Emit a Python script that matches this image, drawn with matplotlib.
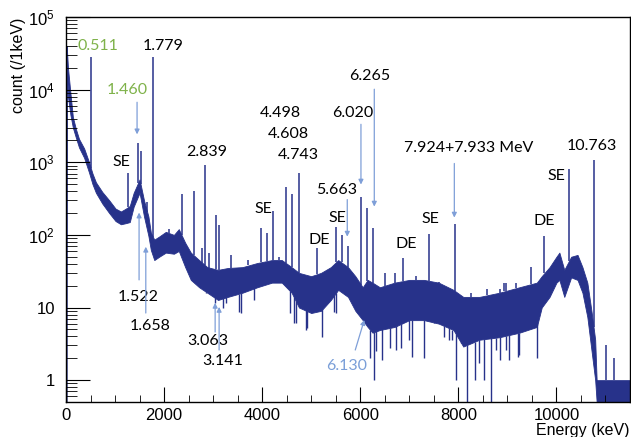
import numpy as np
import matplotlib
matplotlib.use("Agg")
import matplotlib.pyplot as plt
from matplotlib.ticker import FixedLocator, MultipleLocator, NullFormatter

plt.rcParams['font.family'] = ['Liberation Sans', 'DejaVu Sans']
plt.rcParams['mathtext.default'] = 'regular'

# continuum band (keV, lower / upper envelope in counts per keV)
band_e = [8, 15, 40, 90, 140, 200, 265, 370, 470, 540, 610, 740, 880, 1010, 1120,
          1220, 1300, 1380, 1500, 1590, 1680, 1730, 1800, 1900, 2035, 2200, 2300,
          2430, 2545, 2715, 2880, 3100, 3300, 3600, 3900, 4200, 4400, 4600, 4750,
          5000, 5200, 5400, 5550, 5750, 5900, 6050, 6150, 6250, 6400, 6700, 7000,
          7300, 7600, 7900, 8100, 8430, 8840, 9245, 9600, 9700, 9860, 10000, 10060,
          10160, 10300, 10430, 10530, 10630, 10720, 10790, 10820, 11500]
band_lo = [0.5, 25000, 8000, 4500, 3000, 2200, 1600, 1150, 720, 500, 380, 270, 200,
           155, 140, 145, 150, 245, 380, 180, 97, 62, 45, 50, 57, 55, 60, 36, 24, 19,
           16, 12.7, 14, 16, 19, 22, 22, 16, 10, 8.4, 9, 12.7, 17.5, 14, 9, 6.7, 5.4,
           4.5, 4.9, 5.4, 6.7, 6.7, 6, 4.9, 2.9, 3.6, 3.9, 4.5, 5.4, 10, 14, 22, 24,
           14, 26, 24, 16, 7.4, 2.4, 1, 0.5, 0.5]
band_hi = [40000, 40000, 20000, 9000, 4200, 2900, 2100, 1550, 1000, 700, 530, 390,
           300, 230, 210, 230, 250, 380, 580, 300, 180, 108, 86, 95, 110, 100, 120,
           78, 57, 45, 36, 33, 35, 36, 41, 45, 45, 36, 30, 27, 30, 36, 45, 36, 27,
           19, 24, 22, 19, 22, 24, 24, 22, 17.5, 14, 14, 16, 19, 22, 27, 36, 50, 57,
           33, 50, 53, 36, 22, 8.4, 3.6, 1, 1]

# peaks and upward fluctuations (keV, height)
peak_e = [511, 605, 1260, 1460, 1524, 1658, 1779, 2100, 2360, 2605, 2780, 2839, 2925,
          3055, 3120, 3370, 3720, 3975, 4095, 4225, 4350, 4490, 4605, 4743, 5108,
          5500, 5620, 5755, 6020, 6135, 6265, 6500, 6700, 6880, 7140, 7410, 7610,
          7930, 8260, 8590, 8840, 8940, 8975, 9180, 9485, 9755, 10252, 10763, 11010,
          11180]
peak_top = [28000, 540, 720, 1870, 1450, 280, 28000, 120, 360, 400, 66, 930, 57,
            190, 138, 53, 45, 126, 107, 210, 50, 460, 360, 720, 66,
            130, 100, 71, 330, 237, 126, 30, 30, 48, 27, 104, 22.5,
            143, 16, 18, 18, 22, 22, 22, 36, 97, 820, 1060, 3,
            2]

# downward fluctuations (keV, value)
dip_e = [2850, 3030, 3195, 3260, 3530, 3565, 3830, 4575, 4655, 4690, 4890, 4920,
         5225, 5470, 5505, 6200, 6290, 6330, 6450, 6600, 6730, 6830, 7000, 7060,
         7305, 7510, 7710, 7815, 7880, 7960, 8055, 8185, 8330, 8430, 8530, 8667,
         8770, 8840, 8975, 9040, 9210, 9245, 9610]
dip_val = [16, 11.6, 10, 11.6, 8.7, 8.4, 12.7, 8.4, 6.1, 6.1, 4.9, 5.2,
           3.9, 8.8, 8.4, 2.0, 1.0, 2.5, 1.9, 2.8, 2.6, 2.8, 3.6, 2.1,
           2.0, 6.3, 3.9, 3.6, 3.6, 1.0, 3.2, 0.5, 1.0, 1.7, 1.0, 0.5,
           2.6, 1.9, 2.6, 1.9, 2.1, 2.2, 2.0]

# labels: text, x keV, y counts, colour
labels = [
    ("0.511", 653, 39700, '#7fb24a'), ("1.779", 1980, 39700, 'black'),
    ("1.460", 1245, 9800, '#7fb24a'), ("SE", 1122, 993, 'black'),
    ("2.839", 2878, 1366, 'black'), ("1.522", 1469, 14.0, 'black'),
    ("1.658", 1714, 5.57, 'black'), ("3.063", 2898, 3.46, 'black'),
    ("3.141", 3204, 1.83, 'black'), ("6.130", 5714, 1.56, '#7b9fd8'),
    ("4.498", 4367, 4720, 'black'), ("4.608", 4531, 2420, 'black'),
    ("4.743", 4735, 1242, 'black'), ("6.020", 5837, 4720, 'black'),
    ("6.265", 6184, 15300, 'black'), ("5.663", 5510, 421, 'black'),
    ("SE", 4020, 230, 'black'), ("SE", 5531, 173, 'black'),
    ("DE", 5163, 86, 'black'), ("DE", 6939, 75.5, 'black'),
    ("SE", 7429, 167, 'black'), ("7.924+7.933 MeV", 8204, 1550, 'black'),
    ("DE", 9755, 157, 'black'), ("SE", 10000, 637, 'black'),
    ("10.763", 10714, 1652, 'black'),
]

# arrows: (x tail, y tail) -> (x head, y head)
arrows = [
    ((1449, 6700), (1449, 2420)),
    ((1490, 24), (1490, 203)),
    ((1627, 8.4), (1627, 68.7)),
    ((3041, 4.6), (3041, 11.6)),
    ((3122, 2.6), (3122, 10.2)),
    ((5898, 2.6), (6082, 6.74)),
    ((6014, 3330), (6014, 493)),
    ((6286, 10130), (6286, 245)),
    ((5735, 306), (5735, 94.5)),
    ((7918, 962), (7918, 173)),
]

navy = '#27328a'

fig = plt.figure(figsize=(6.31, 4.37), dpi=100)
ax = fig.add_axes([66 / 631, 35 / 437, 564 / 631, 385 / 437])
ax.set_yscale('log')

ax.fill_between(band_e, band_lo, band_hi, color=navy, lw=0.6, edgecolor=navy)
base = np.interp(peak_e, band_e, band_hi)
ax.vlines(peak_e, np.minimum(base, peak_top), peak_top, color=navy, lw=1.1)
dtop = np.interp(dip_e, band_e, band_lo)
ax.vlines(dip_e, dip_val, dtop, color=navy, lw=1.0)

for txt, x, y, c in labels:
    ax.text(x, y, txt, color=c, ha='center', va='center', fontsize=11.5,
            family=['Lato', 'DejaVu Sans'])
for (x0, y0), (x1, y1) in arrows:
    ax.annotate('', xy=(x1, y1), xytext=(x0, y0),
                arrowprops=dict(arrowstyle='-|>', color='#7f9fd8', lw=0.9,
                                mutation_scale=7, shrinkA=0, shrinkB=0))

ax.set_xlim(0, 11500)
ax.set_ylim(0.5, 1e5)
ax.xaxis.set_major_locator(MultipleLocator(2000))
ax.xaxis.set_minor_locator(MultipleLocator(500))
ax.yaxis.set_major_locator(FixedLocator([1, 10, 100, 1e3, 1e4, 1e5]))
ax.set_yticklabels(['1', '10', '$10^{2}$', '$10^{3}$', '$10^{4}$', '$10^{5}$'])
ax.tick_params(axis='both', which='both', direction='in', labelsize=12)
ax.tick_params(axis='y', which='major', length=17, pad=8)
ax.tick_params(axis='y', which='minor', length=8)
ax.tick_params(axis='x', which='major', length=11, pad=4)
ax.tick_params(axis='x', which='minor', length=5)
ax.yaxis.set_minor_formatter(NullFormatter())
for s in ax.spines.values():
    s.set_linewidth(1.0)

fig.text(19 / 631, 1 - 18 / 437, 'count (/1keV)', rotation=90, ha='center', va='top',
         fontsize=11.5)
fig.text(630 / 631, 1 - 430 / 437, 'Energy (keV)', ha='right', va='center', fontsize=11.5)

fig.savefig('out.png', dpi=100)
